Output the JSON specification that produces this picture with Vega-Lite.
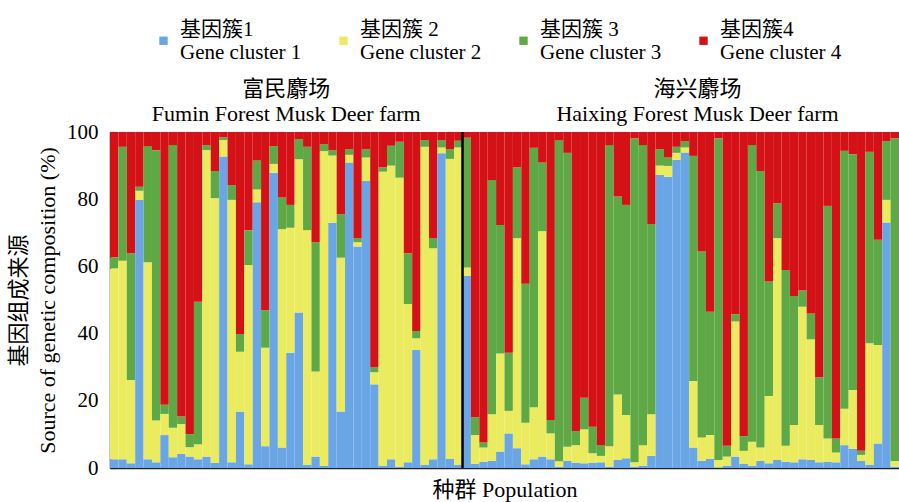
{
  "$schema": "https://vega.github.io/schema/vega-lite/v6.json",
  "width": 789,
  "height": 336,
  "autosize": {"type": "none"},
  "padding": {"left": 110, "top": 132, "right": 0, "bottom": 34},
  "background": "white",
  "config": {
    "font": "'Liberation Serif', 'Noto Sans CJK SC', serif",
    "view": {"stroke": null},
    "axis": {"labelFont": "'Liberation Serif', serif", "titleFont": "'Liberation Serif', 'Noto Sans CJK SC', serif", "titleFontWeight": "normal", "labelColor": "#000", "titleColor": "#000"},
    "legend": {"labelFont": "'Liberation Serif', 'Noto Sans CJK SC', serif"},
    "text": {"font": "'Liberation Serif', 'Noto Sans CJK SC', serif"}
  },
  "datasets": {
    "bars": [
      {"i":1,"a":2.6,"b":56.8,"c":3.3,"d":37.3},
      {"i":2,"a":2.6,"b":59.1,"c":33.9,"d":4.4},
      {"i":3,"a":1.4,"b":24.8,"c":37.7,"d":36.1},
      {"i":4,"a":79.8,"b":2.7,"c":1.2,"d":16.3},
      {"i":5,"a":2.6,"b":58.6,"c":34.6,"d":4.2},
      {"i":6,"a":1.7,"b":12.4,"c":80.5,"d":5.4},
      {"i":7,"a":9.8,"b":6.3,"c":2.7,"d":81.2},
      {"i":8,"a":3.2,"b":8.8,"c":84.1,"d":3.9},
      {"i":9,"a":4.2,"b":8.9,"c":2.2,"d":84.7},
      {"i":10,"a":3.4,"b":2.8,"c":3.9,"d":89.9},
      {"i":11,"a":2.6,"b":4.5,"c":42.4,"d":50.5},
      {"i":12,"a":3.4,"b":91.2,"c":1.5,"d":3.9},
      {"i":13,"a":1.5,"b":78.8,"c":8.1,"d":11.6},
      {"i":14,"a":92.7,"b":4.9,"c":0.8,"d":1.6},
      {"i":15,"a":1.7,"b":78.1,"c":4.4,"d":15.8},
      {"i":16,"a":16.8,"b":17.8,"c":5.3,"d":60.1},
      {"i":17,"a":1.1,"b":59.3,"c":10.4,"d":29.2},
      {"i":18,"a":79.1,"b":3.8,"c":8.6,"d":8.5},
      {"i":19,"a":6.5,"b":29.3,"c":11.2,"d":53.0},
      {"i":20,"a":87.9,"b":2.6,"c":5.3,"d":4.2},
      {"i":21,"a":6.1,"b":65.0,"c":9.4,"d":19.5},
      {"i":22,"a":34.3,"b":37.2,"c":6.8,"d":21.7},
      {"i":23,"a":46.3,"b":45.6,"c":6.0,"d":2.1},
      {"i":24,"a":0.9,"b":69.9,"c":24.8,"d":4.4},
      {"i":25,"a":3.4,"b":25.3,"c":38.5,"d":32.8},
      {"i":26,"a":0.6,"b":93.7,"c":2.1,"d":3.6},
      {"i":27,"a":73.0,"b":20.0,"c":1.6,"d":5.4},
      {"i":28,"a":16.8,"b":45.8,"c":12.9,"d":24.5},
      {"i":29,"a":90.9,"b":2.3,"c":1.7,"d":5.1},
      {"i":30,"a":65.9,"b":1.3,"c":1.2,"d":31.6},
      {"i":31,"a":85.4,"b":7.0,"c":2.5,"d":5.1},
      {"i":32,"a":24.9,"b":3.6,"c":1.5,"d":70.0},
      {"i":33,"a":0.7,"b":87.5,"c":1.3,"d":10.5},
      {"i":34,"a":2.6,"b":87.4,"c":5.9,"d":4.1},
      {"i":35,"a":0.4,"b":86.0,"c":10.7,"d":2.9},
      {"i":36,"a":1.7,"b":47.1,"c":15.1,"d":36.1},
      {"i":37,"a":35.1,"b":3.5,"c":2.2,"d":59.2},
      {"i":38,"a":0.9,"b":94.7,"c":2.0,"d":2.4},
      {"i":39,"a":2.6,"b":62.8,"c":3.0,"d":31.6},
      {"i":40,"a":93.7,"b":1.7,"c":2.2,"d":2.4},
      {"i":41,"a":2.7,"b":89.3,"c":2.9,"d":5.1},
      {"i":42,"a":0.9,"b":94.5,"c":2.0,"d":2.6},
      {"i":43,"a":57.2,"b":2.5,"c":38.6,"d":1.7},
      {"i":44,"a":1.2,"b":8.6,"c":5.3,"d":84.9},
      {"i":45,"a":1.9,"b":4.2,"c":1.5,"d":92.4},
      {"i":46,"a":2.1,"b":13.9,"c":69.7,"d":14.3},
      {"i":47,"a":4.9,"b":29.2,"c":38.2,"d":27.7},
      {"i":48,"a":10.3,"b":6.7,"c":17.3,"d":65.7},
      {"i":49,"a":5.9,"b":62.5,"c":21.1,"d":10.5},
      {"i":50,"a":1.1,"b":12.4,"c":41.3,"d":45.2},
      {"i":51,"a":2.6,"b":15.5,"c":77.2,"d":4.7},
      {"i":52,"a":3.4,"b":67.1,"c":20.4,"d":9.1},
      {"i":53,"a":2.6,"b":7.7,"c":4.0,"d":85.7},
      {"i":54,"a":0.4,"b":1.6,"c":95.6,"d":2.4},
      {"i":55,"a":2.1,"b":4.2,"c":87.5,"d":6.2},
      {"i":56,"a":1.6,"b":5.2,"c":4.2,"d":89.0},
      {"i":57,"a":1.4,"b":10.1,"c":9.4,"d":79.1},
      {"i":58,"a":1.6,"b":2.8,"c":7.9,"d":87.7},
      {"i":59,"a":1.7,"b":1.9,"c":3.2,"d":93.2},
      {"i":60,"a":0.4,"b":6.1,"c":89.6,"d":3.9},
      {"i":61,"a":2.4,"b":19.5,"c":58.9,"d":19.2},
      {"i":62,"a":2.9,"b":12.9,"c":62.5,"d":21.7},
      {"i":63,"a":0.4,"b":1.3,"c":96.4,"d":1.9},
      {"i":64,"a":0.7,"b":6.1,"c":89.3,"d":3.9},
      {"i":65,"a":3.6,"b":12.4,"c":56.6,"d":27.4},
      {"i":66,"a":87.2,"b":2.8,"c":4.9,"d":5.1},
      {"i":67,"a":86.7,"b":3.2,"c":2.5,"d":7.6},
      {"i":68,"a":91.7,"b":2.1,"c":1.8,"d":4.4},
      {"i":69,"a":93.9,"b":1.5,"c":1.9,"d":2.7},
      {"i":70,"a":6.1,"b":19.8,"c":67.0,"d":7.1},
      {"i":71,"a":2.1,"b":7.0,"c":55.3,"d":35.6},
      {"i":72,"a":2.7,"b":7.1,"c":36.7,"d":53.5},
      {"i":73,"a":0.2,"b":2.2,"c":95.7,"d":1.9},
      {"i":74,"a":0.7,"b":2.7,"c":3.2,"d":93.4},
      {"i":75,"a":3.4,"b":40.2,"c":2.2,"d":54.2},
      {"i":76,"a":1.2,"b":3.9,"c":4.4,"d":90.5},
      {"i":77,"a":0.7,"b":7.1,"c":88.3,"d":3.9},
      {"i":78,"a":2.1,"b":4.0,"c":82.3,"d":11.6},
      {"i":79,"a":1.4,"b":20.0,"c":34.1,"d":44.5},
      {"i":80,"a":2.4,"b":66.0,"c":10.4,"d":21.2},
      {"i":81,"a":1.9,"b":4.7,"c":52.3,"d":41.1},
      {"i":82,"a":1.7,"b":11.1,"c":38.4,"d":48.8},
      {"i":83,"a":2.6,"b":45.4,"c":4.8,"d":47.2},
      {"i":84,"a":2.4,"b":35.9,"c":7.7,"d":54.0},
      {"i":85,"a":1.7,"b":11.1,"c":14.1,"d":73.1},
      {"i":86,"a":1.9,"b":6.9,"c":69.2,"d":22.0},
      {"i":87,"a":1.7,"b":2.9,"c":4.2,"d":91.2},
      {"i":88,"a":6.8,"b":10.8,"c":76.8,"d":5.6},
      {"i":89,"a":5.7,"b":17.5,"c":70.2,"d":6.6},
      {"i":90,"a":2.1,"b":1.8,"c":1.2,"d":94.9},
      {"i":91,"a":0.9,"b":36.2,"c":57.0,"d":5.9},
      {"i":92,"a":7.3,"b":29.3,"c":31.3,"d":32.1},
      {"i":93,"a":73.1,"b":6.7,"c":17.5,"d":2.7},
      {"i":94,"a":0.4,"b":1.7,"c":96.0,"d":1.9}
    ],
    "farms": [
      {"pos": 22, "label": "富民麝场\nFumin Forest Musk Deer farm"},
      {"pos": 71, "label": "海兴麝场\nHaixing Forest Musk Deer farm"}
    ]
  },
  "layer": [
    {
      "data": {"name": "bars"},
      "transform": [{"fold": ["a", "b", "c", "d"], "as": ["cluster", "value"]}],
      "mark": {"type": "bar", "strokeWidth": 0},
      "encoding": {
        "x": {
          "field": "i", "type": "ordinal",
          "scale": {"paddingInner": 0, "paddingOuter": 0},
          "axis": {"labels": false, "ticks": false, "title": "种群 Population", "titleFontSize": 22, "titlePadding": 11, "domainColor": "#222", "domainWidth": 1.5}
        },
        "y": {
          "field": "value", "type": "quantitative", "aggregate": "sum", "stack": "zero",
          "scale": {"domain": [0, 100], "nice": false},
          "axis": {
            "values": [0,10,20,30,40,50,60,70,80,90,100],
            "grid": false, "labelOverlap": false,
            "tickSize": -5, "tickColor": "#222", "tickWidth": 1.2,
            "labelPadding": 17, "labelFontSize": 21,
            "domainColor": "#222", "domainWidth": 1.5,
            "title": ["基因组成来源", "Source of genetic composition (%)"],
            "titleFontSize": 22, "titleLineHeight": 29, "titlePadding": 7
          }
        },
        "color": {
          "field": "cluster", "type": "nominal",
          "scale": {"domain": ["a", "b", "c", "d"], "range": ["#6aa6e6", "#ebeb5f", "#5fa846", "#d31116"]},
          "legend": {
            "orient": "none", "direction": "horizontal", "columns": 4,
            "legendX": 43, "legendY": -102,
            "title": null,
            "symbolType": "square", "symbolSize": 70, "symbolStrokeWidth": 0,
            "labelFontSize": 21,
            "labelLimit": 300, "labelOffset": 6, "columnPadding": 31,
            "labelExpr": "datum.value == 'a' ? ['基因簇1', 'Gene cluster 1'] : datum.value == 'b' ? ['基因簇 2', 'Gene cluster 2'] : datum.value == 'c' ? ['基因簇 3', 'Gene cluster 3'] : ['基因簇4', 'Gene cluster 4']",
            "encode": {"labels": {"update": {"dy": {"value": -11}, "lineHeight": {"value": 23}}}}
          }
        },
        "order": {"field": "cluster", "type": "nominal", "sort": "ascending"}
      }
    },
    {
      "data": {"values": [{"split": 43}]},
      "mark": {"type": "rule", "color": "#000", "strokeWidth": 2.5},
      "encoding": {
        "x": {"field": "split", "type": "ordinal", "bandPosition": 0}
      }
    },
    {
      "data": {"name": "farms"},
      "mark": {"type": "text", "lineBreak": "\n", "fontSize": 22, "lineHeight": 25, "baseline": "alphabetic", "align": "center", "dy": -36},
      "encoding": {
        "x": {"field": "pos", "type": "ordinal", "bandPosition": 0},
        "y": {"datum": 100},
        "text": {"field": "label"}
      }
    }
  ]
}
